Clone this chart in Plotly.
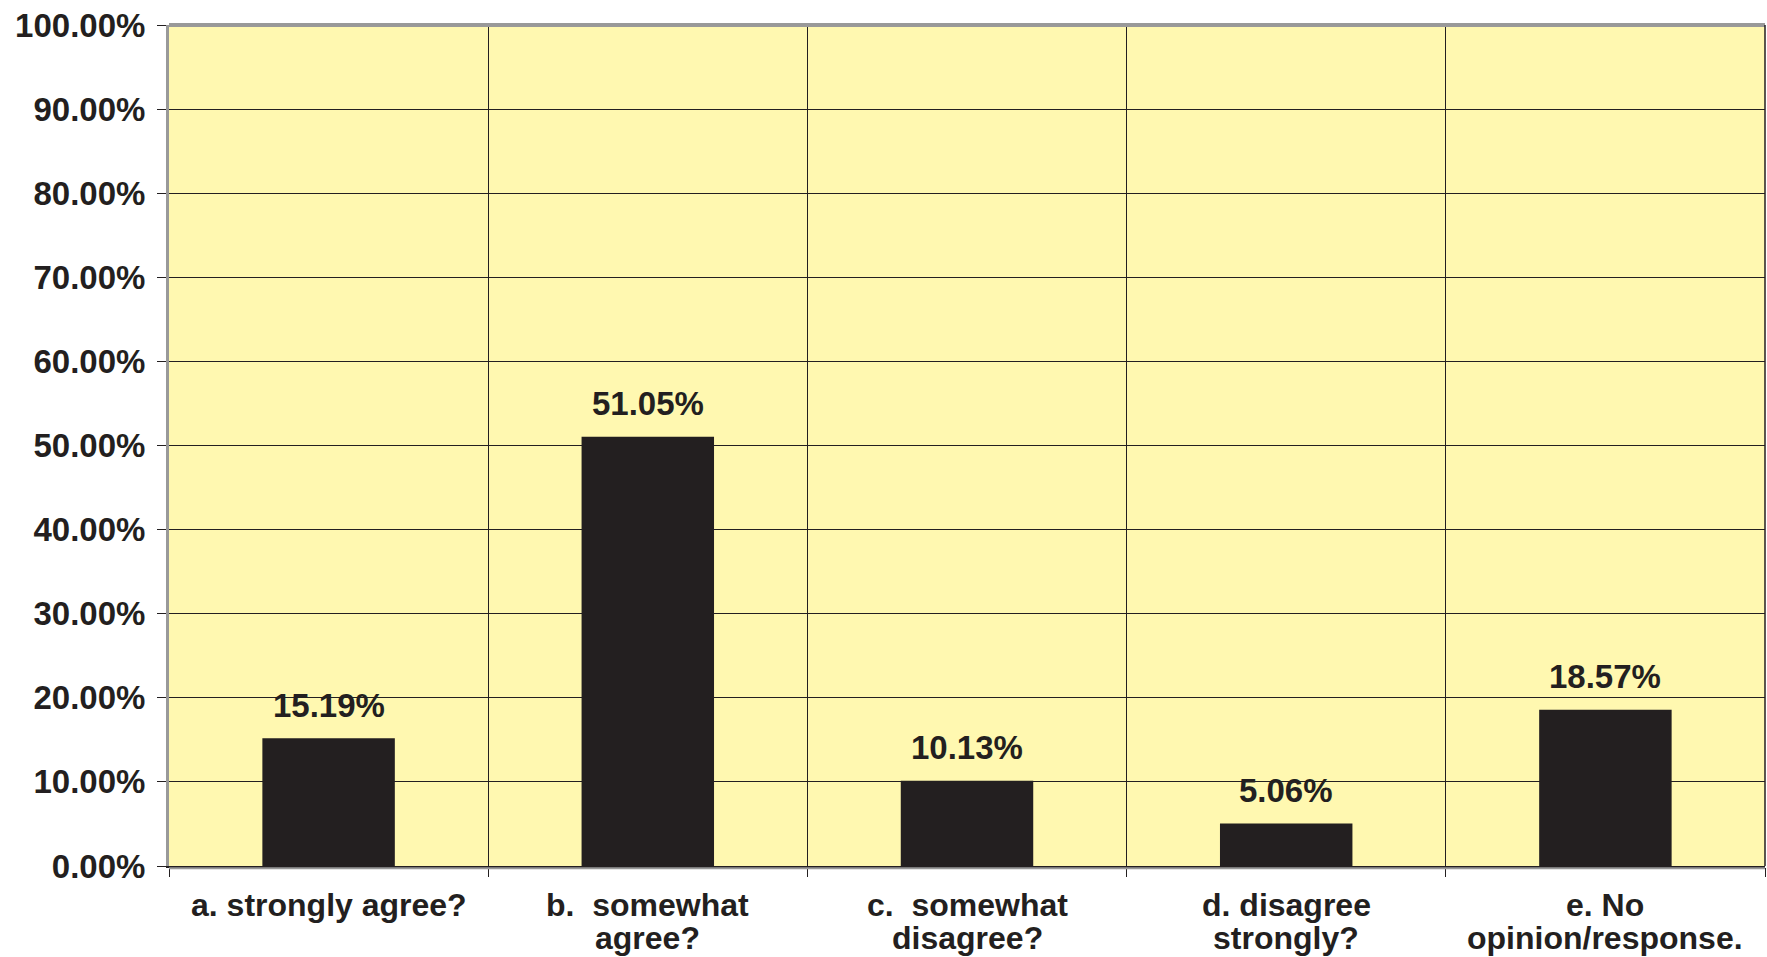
import plotly.graph_objects as go

categories = ["a. strongly agree?", "b.\u00a0 somewhat<br>agree?", "c.\u00a0 somewhat<br>disagree?",
              "d. disagree<br>strongly?", "e. No<br>opinion/response."]
values = [15.19, 51.05, 10.13, 5.06, 18.57]
value_labels = ["15.19%", "51.05%", "10.13%", "5.06%", "18.57%"]
y_ticks = [0, 10, 20, 30, 40, 50, 60, 70, 80, 90, 100]

TXT = "#231F20"
FONT = "Liberation Sans, Arial, sans-serif"

fig = go.Figure()
fig.add_trace(go.Bar(x=categories, y=values, marker=dict(color="#231F20", line=dict(width=0)),
                     width=0.415, hoverinfo="skip"))

for c, v, t in zip(categories, values, value_labels):
    fig.add_annotation(x=c, y=v, text=t, showarrow=False, yanchor="middle", yshift=33,
                       font=dict(family=FONT, size=33, color=TXT, weight="bold"))

# category labels, one annotation per line for tighter line spacing
for c in categories:
    for i, line in enumerate(c.split("<br>")):
        fig.add_annotation(x=c, xref="x", y=0, yref="paper", text=line, showarrow=False,
                           yanchor="middle", yshift=-39 - 33 * i,
                           font=dict(family=FONT, size=32, color=TXT, weight="bold"))

fig.update_layout(
    width=1767, height=957,
    margin=dict(l=169, r=2, t=25, b=91),
    paper_bgcolor="white", plot_bgcolor="#FFF8B0",
    showlegend=False,
    font=dict(family=FONT, color=TXT),
)
fig.update_xaxes(
    type="category", tickson="boundaries", showgrid=True, gridcolor="#231F20", gridwidth=1.3,
    showline=True, linecolor="#231F20", linewidth=1.5,
    ticks="outside", ticklen=9, tickcolor="#231F20", tickwidth=1.3,
    showticklabels=False, automargin=False,
)
fig.update_yaxes(
    range=[0, 100], tickmode="array", tickvals=y_ticks,
    ticktext=[f"{v:.2f}%" for v in y_ticks],
    showgrid=True, gridcolor="#231F20", gridwidth=1.3, zeroline=False,
    showline=True, linecolor="#999999", linewidth=3,
    ticks="outside", ticklen=9, tickcolor="#231F20", tickwidth=1.3,
    tickfont=dict(family=FONT, size=33, color=TXT, weight="bold"),
    ticklabelstandoff=5, automargin=False,
)
# frame: gray top, black right, gray shadow under the x axis
fig.add_shape(type="line", xref="paper", yref="paper", x0=0, x1=1, y0=1, y1=1,
              line=dict(color="#999999", width=4))
fig.add_shape(type="line", xref="paper", yref="paper", x0=1, x1=1, y0=0, y1=1,
              line=dict(color="#231F20", width=1.5))
fig.add_shape(type="line", xref="paper", yref="paper", x0=0, x1=1, y0=-0.0028, y1=-0.0028,
              line=dict(color="#999999", width=2))

fig.write_html("out.html", config={"displayModeBar": False},
               post_script="document.body.style.margin='0';document.body.style.overflow='hidden';")
